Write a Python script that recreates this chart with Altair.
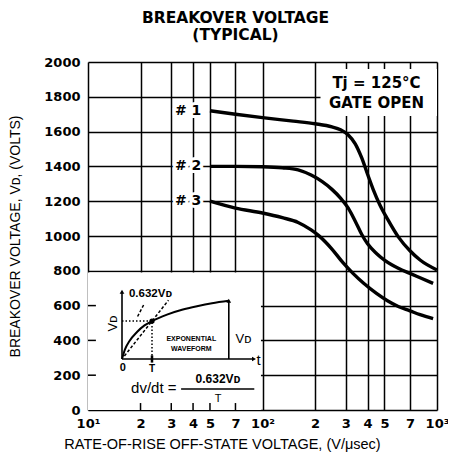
import altair as alt
import pandas as pd

# ---------------- data ----------------
# Curve #1
rate_1 = [50, 70, 100, 150, 200, 250, 280, 310, 340, 370, 400, 430, 470, 520, 600, 700, 800, 1000]
volt_1 = [1720, 1700, 1680, 1660, 1645, 1627, 1610, 1580, 1530, 1450, 1355, 1270, 1180, 1098, 995, 915, 862, 805]
# Curve #2
rate_2 = [50, 70, 100, 130, 160, 190, 220, 250, 280, 310, 340, 370, 400, 450, 500, 550, 600, 700, 800, 950]
volt_2 = [1400, 1400, 1398, 1392, 1380, 1350, 1312, 1268, 1218, 1160, 1085, 1010, 955, 900, 862, 835, 815, 785, 760, 728]
# Curve #3
rate_3 = [50, 70, 100, 130, 160, 190, 210, 250, 290, 330, 380, 450, 520, 600, 700, 800, 950]
volt_3 = [1200, 1160, 1132, 1105, 1078, 1035, 1002, 925, 845, 785, 728, 670, 628, 595, 570, 548, 525]

curve_names = ["# 1", "# 2", "# 3"]
label_rate = [37.5, 37.5, 37.5]
label_volt = [1720, 1400, 1200]

x_ticks = [10, 20, 30, 40, 50, 70, 100, 200, 300, 400, 500, 700, 1000]
x_tick_text = ["10¹", "2", "3", "4", "5", "7", "10²", "2", "3", "4", "5", "7", "10³"]
y_ticks = [0, 200, 400, 600, 800, 1000, 1200, 1400, 1600, 1800, 2000]

cond_text = ["Tj = 125°C", "GATE OPEN"]
cond_rate = [450, 450]
cond_volt = [1880, 1765]

# white panels (inset box, condition box)
box_rate = [10, 215]
box_rate2 = [98, 1000]
box_volt = [0, 1690]
box_volt2 = [790, 1960]

# small inward ticks on the inset frame
left_tick_volt = [200, 400, 600]
bottom_tick_rate = [20, 30, 40, 50, 70]

# ---------------- inset (exponential waveform), in units of T and V_D ----------------
wave_t = [0, 0.1, 0.25, 0.5, 0.75, 1.0, 1.5, 2.0, 2.5, 3.0, 3.56]
wave_v = [0, 0.16, 0.30, 0.45, 0.56, 0.632, 0.74, 0.82, 0.88, 0.93, 0.97]

# line segments: t, v, t2, v2, width
seg_t = [0, 0, 3.56, 1.97, 1.0]
seg_v = [0, 0, 0, -0.5, -0.06]
seg_t2 = [4.35, 0, 3.56, 4.41, 1.0]
seg_v2 = [0, 1.12, 0.97, -0.5, 0.06]
seg_w = [1.6, 1.6, 1.6, 1.5, 2.5]

dash_t = [0.08, 0.72]
dash_v = [0.05, 0.90]
dash_t2 = [1.55, 0.49]
dash_v2 = [0.98, 0.68]

dot_t = [0, 1.0]
dot_v = [0.632, 0]
dot_t2 = [1.0, 1.0]
dot_v2 = [0.632, 0.632]

arrow_t = [0, 4.4, 3.56]
arrow_v = [1.12, 0, 0.97]
arrow_shape = ["triangle-up", "triangle-right", "triangle-up"]

bold_text = ["0.632Vᴅ", "0", "T", "EXPONENTIAL", "WAVEFORM", "0.632Vᴅ"]
bold_t = [0.95, 0.03, 1.0, 2.31, 2.31, 3.2]
bold_v = [1.09, -0.15, -0.17, 0.33, 0.16, -0.33]
bold_size = [11.5, 11, 10, 7, 7, 12]

norm_text = ["Vᴅ", "t", "Vᴅ", "dv/dt =", "T"]
norm_t = [-0.31, 4.55, 4.05, 1.06, 3.2]
norm_v = [0.59, -0.02, 0.34, -0.49, -0.66]
norm_size = [13, 15, 13, 15, 11]
norm_angle = [270, 0, 0, 0, 0]

# ---------------- layout ----------------
W, H = 349, 348
T_MIN = -34 / 30
T_MAX = T_MIN + W / 30
V_MIN = -51 / 60
V_MAX = V_MIN + H / 60

curves = pd.DataFrame({
    "rate": rate_1 + rate_2 + rate_3,
    "volt": volt_1 + volt_2 + volt_3,
    "series": ["1"] * len(rate_1) + ["2"] * len(rate_2) + ["3"] * len(rate_3),
})
labels = pd.DataFrame({"rate": label_rate, "volt": label_volt, "txt": curve_names})
conds = pd.DataFrame({"rate": cond_rate, "volt": cond_volt, "txt": cond_text})
boxes = pd.DataFrame({"rate": box_rate, "rate2": box_rate2, "volt": box_volt, "volt2": box_volt2})
lticks = pd.DataFrame({"rate": [10] * 3, "rate2": [11.1] * 3, "volt": left_tick_volt})
bticks = pd.DataFrame({"rate": bottom_tick_rate, "volt": [0] * 5, "volt2": [40] * 5})

label_expr = "".join(f"datum.value == {v} ? '{t}' : " for v, t in zip(x_ticks, x_tick_text)) + "''"

x_axis = alt.Axis(
    values=x_ticks, labelExpr=label_expr, grid=True, gridColor="black", gridWidth=1.5,
    gridOpacity=1, ticks=False, tickSize=0, domain=False, labelFont="DejaVu Sans",
    labelFontWeight="bold", labelFontSize=13, labelColor="black", labelPadding=7,
    labelFlush=False, labelOverlap=False,
    title="RATE-OF-RISE OFF-STATE VOLTAGE, (V/μsec)", titleFont="Liberation Sans",
    titleFontWeight="normal", titleFontSize=14.5, titleColor="black",
    titleX=134, titleY=34, titleAlign="center", titleBaseline="middle",
)
y_axis = alt.Axis(
    values=y_ticks, format="d", grid=True, gridColor="black", gridWidth=1.5, gridOpacity=1,
    ticks=False, tickSize=0, domain=False, labelFont="DejaVu Sans", labelFontWeight="bold",
    labelFontSize=13, labelColor="black", labelPadding=8, labelOverlap=False, labelFlush=False,
    title="BREAKOVER VOLTAGE, Vᴅ, (VOLTS)", titleFont="Liberation Sans",
    titleFontWeight="normal", titleFontSize=14, titleColor="black",
    titleX=-73, titleY=H / 2, titleAngle=270, titleAlign="center", titleBaseline="middle",
)
X = alt.X("rate:Q", scale=alt.Scale(type="log", domain=[10, 1000], nice=False), axis=x_axis)
Y = alt.Y("volt:Q", scale=alt.Scale(domain=[0, 2000], nice=False, zero=False), axis=y_axis)

white_boxes = alt.Chart(boxes).mark_rect(color="white").encode(
    x=X, x2="rate2:Q", y=Y, y2="volt2:Q")
left_ticks = alt.Chart(lticks).mark_rule(color="black", strokeWidth=1.5).encode(
    x=X, x2="rate2:Q", y=Y)
bottom_ticks = alt.Chart(bticks).mark_rule(color="black", strokeWidth=1.5).encode(
    x=X, y=Y, y2="volt2:Q")
lines = alt.Chart(curves).mark_line(color="black", strokeWidth=3.4, interpolate="monotone").encode(
    x=X, y=Y, detail="series:N")
halo = alt.Chart(labels).mark_text(font="DejaVu Sans", fontWeight="bold", fontSize=14,
                                   color="white", stroke="white", strokeWidth=6).encode(
    x=X, y=Y, text="txt:N")
lab = alt.Chart(labels).mark_text(font="DejaVu Sans", fontWeight="bold", fontSize=14,
                                  color="black").encode(x=X, y=Y, text="txt:N")
cond = alt.Chart(conds).mark_text(font="DejaVu Sans", fontWeight="bold", fontSize=15,
                                  color="black").encode(x=X, y=Y, text="txt:N")

main = alt.layer(white_boxes, left_ticks, bottom_ticks, lines, halo, lab, cond)

# ---- inset layer with its own scales ----
IX = alt.X("t:Q", scale=alt.Scale(domain=[T_MIN, T_MAX], nice=False, zero=False), axis=None)
IY = alt.Y("v:Q", scale=alt.Scale(domain=[V_MIN, V_MAX], nice=False, zero=False), axis=None)

wave = alt.Chart(pd.DataFrame({"t": wave_t, "v": wave_v})).mark_line(
    color="black", strokeWidth=2, interpolate="monotone").encode(x=IX, y=IY)
segs = alt.Chart(pd.DataFrame({"t": seg_t, "v": seg_v, "t2": seg_t2, "v2": seg_v2, "w": seg_w})).mark_rule(
    color="black").encode(x=IX, y=IY, x2="t2:Q", y2="v2:Q", strokeWidth=alt.StrokeWidth("w:Q", scale=None))
dashes = alt.Chart(pd.DataFrame({"t": dash_t, "v": dash_v, "t2": dash_t2, "v2": dash_v2})).mark_rule(
    color="black", strokeWidth=1.5, strokeDash=[3, 2]).encode(x=IX, y=IY, x2="t2:Q", y2="v2:Q")
dots = alt.Chart(pd.DataFrame({"t": dot_t, "v": dot_v, "t2": dot_t2, "v2": dot_v2})).mark_rule(
    color="black", strokeWidth=1.5, strokeDash=[1.5, 2]).encode(x=IX, y=IY, x2="t2:Q", y2="v2:Q")
knee = alt.Chart(pd.DataFrame({"t": [1.0], "v": [0.632]})).mark_circle(
    color="black", size=28, opacity=1).encode(x=IX, y=IY)
arrows = alt.Chart(pd.DataFrame({"t": arrow_t, "v": arrow_v, "s": arrow_shape})).mark_point(
    filled=True, color="black", size=22, opacity=1).encode(
    x=IX, y=IY, shape=alt.Shape("s:N", scale=None))
btxt = alt.Chart(pd.DataFrame({"t": bold_t, "v": bold_v, "txt": bold_text, "fs": bold_size})).mark_text(
    font="Liberation Sans", fontWeight="bold", color="black").encode(
    x=IX, y=IY, text="txt:N", size=alt.Size("fs:Q", scale=None))
ntxt = alt.Chart(pd.DataFrame({"t": norm_t, "v": norm_v, "txt": norm_text, "fs": norm_size,
                               "ang": norm_angle})).mark_text(
    font="Liberation Sans", color="black").encode(
    x=IX, y=IY, text="txt:N", size=alt.Size("fs:Q", scale=None),
    angle=alt.Angle("ang:Q", scale=None))

inset = alt.layer(wave, segs, dashes, dots, knee, arrows, btxt, ntxt)

chart = alt.layer(main, inset).resolve_scale(x="independent", y="independent").properties(
    width=W, height=H,
    autosize=alt.AutoSizeParams(type="none"),
    padding={"left": 80, "top": 54, "right": 11, "bottom": 43},
    title=alt.TitleParams(
        text=["BREAKOVER VOLTAGE", "(TYPICAL)"], font="DejaVu Sans", fontSize=15.5,
        fontWeight="bold", color="black", anchor="middle", dx=-27, offset=13, lineHeight=17),
).configure_view(stroke="black", strokeWidth=2).configure(background="white")

chart.save("out.html", embed_options={"renderer": "svg", "actions": False})
